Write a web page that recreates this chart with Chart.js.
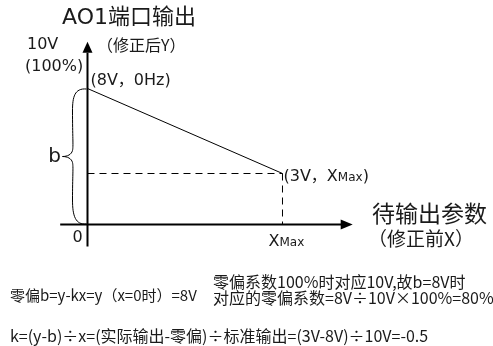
<!DOCTYPE html>
<html>
<head>
<meta charset="utf-8">
<title>AO1 output</title>
<script src="https://cdn.jsdelivr.net/npm/chart.js@4"></script>
<style>
  html, body { margin: 0; padding: 0; background: #fff; }
  #chartAO1 { display: block; }
</style>
</head>
<body>
<canvas id="chartAO1" width="493" height="346"></canvas>
<script>
/******************************************************
 * AO1 output: zero offset / gain diagram
 ******************************************************/

// ===== DATA =====
const xKeys = [0, 10];            // 0Hz ... XMax (XMax drawn at 10)
const outputVolts = [8, 3];       // corrected output at each x
const fullScaleVolts = 10;        // 10V = 100%
const yTickLabels = ['10V', '(100%)'];
const xTickLabels = ['0', 'XMax'];
const pointLabels = ['(8V，0Hz)', '(3V，XMax)'];

const titleText = 'AO1端口输出';
const yAxisNote = '（修正后Y）';
const xAxisTitle = '待输出参数';
const xAxisNote = '（修正前X）';
const formulaLines = [
  '零偏b=y-kx=y（x=0时）=8V',
  '零偏系数100%时对应10V,故b=8V时',
  '对应的零偏系数=8V÷10V×100%=80%',
  'k=(y-b)÷x=(实际输出-零偏)÷标准输出=(3V-8V)÷10V=-0.5'
];

const LATIN = '"DejaVu Sans", "Noto Sans CJK SC", sans-serif';
const CJK = '"Noto Sans CJK SC", "DejaVu Sans", sans-serif';
const INK = '#1a1a1a';

// =====================================================

/* ------------------------------
   TEXT HELPER
--------------------------------*/
function putText(ctx, text, x, y, font, align) {
  ctx.font = font;
  ctx.textAlign = align || 'left';
  ctx.textBaseline = 'middle';
  ctx.fillStyle = INK;
  ctx.fillText(text, x, y);
}

// "XMax" with the smaller "Max"
function putXMax(ctx, x, y, size) {
  ctx.font = size + 'px ' + LATIN;
  ctx.textAlign = 'left';
  ctx.textBaseline = 'middle';
  ctx.fillStyle = INK;
  ctx.fillText('X', x, y);
  const w = ctx.measureText('X').width;
  ctx.font = Math.round(size * 0.78) + 'px ' + LATIN;
  ctx.fillText('Max', x + w, y + 1);
  return w + ctx.measureText('Max').width;
}

/* ------------------------------
   AXES, BRACE AND LABELS
--------------------------------*/
const diagramPlugin = {
  id: 'diagram',
  afterDatasetsDraw(chart) {
    const ctx = chart.ctx;
    const xs = chart.scales.x, ys = chart.scales.y;
    const px = v => xs.getPixelForValue(v);
    const py = v => ys.getPixelForValue(v);

    const x0 = px(0), y0 = py(0);
    ctx.save();

    // axes
    ctx.strokeStyle = '#000';
    ctx.fillStyle = '#000';
    ctx.lineWidth = 2;
    ctx.beginPath();
    ctx.moveTo(px(-1.4), y0);
    ctx.lineTo(px(13.1), y0);
    ctx.moveTo(x0, py(-1.3));
    ctx.lineTo(x0, py(10.1));
    ctx.stroke();

    // arrow heads
    const xt = px(13.6);
    ctx.beginPath();
    ctx.moveTo(xt, y0);
    ctx.lineTo(xt - 12, y0 - 5);
    ctx.lineTo(xt - 12, y0 + 5);
    ctx.closePath();
    ctx.fill();
    const yt = py(10.75);
    ctx.beginPath();
    ctx.moveTo(x0, yt);
    ctx.lineTo(x0 - 5, yt + 11);
    ctx.lineTo(x0 + 5, yt + 11);
    ctx.closePath();
    ctx.fill();

    // brace for b
    const top = py(outputVolts[0]) + 0.5, bot = y0 - 0.5;
    const mid = (top + bot) / 2;
    const sx = x0 - 15, tip = x0 - 25;
    ctx.lineWidth = 1;
    ctx.beginPath();
    ctx.moveTo(x0 - 1, top);
    ctx.bezierCurveTo(sx + 2, top - 1, sx, top + 8, sx, top + 22);
    ctx.bezierCurveTo(sx, mid - 20, sx + 1, mid - 10, sx, mid - 6);
    ctx.bezierCurveTo(sx - 1, mid - 2, sx - 5, mid, tip, mid);
    ctx.bezierCurveTo(sx - 5, mid, sx - 1, mid + 2, sx, mid + 6);
    ctx.bezierCurveTo(sx + 1, mid + 10, sx, mid + 20, sx, bot - 24);
    ctx.bezierCurveTo(sx, bot - 8, sx + 3, bot + 1, x0 - 1, bot);
    ctx.stroke();
    putText(ctx, 'b', tip - 8, mid, '20px ' + LATIN, 'center');

    // y ticks
    const yTop = py(fullScaleVolts);
    putText(ctx, yTickLabels[0], 27, yTop - 10, '16px ' + LATIN);
    putText(ctx, yTickLabels[1], 25, yTop + 12, '16px ' + LATIN);
    putText(ctx, yAxisNote, 97, yTop - 10, '16px ' + CJK);

    // title
    putText(ctx, titleText, 62, 18, '22px ' + LATIN);

    // x ticks
    putText(ctx, xTickLabels[0], x0 - 10, y0 + 13, '16px ' + LATIN, 'center');
    putXMax(ctx, px(xKeys[1]) - 14, y0 + 17, 16);

    // point labels
    putText(ctx, pointLabels[0], x0 + 3, py(outputVolts[0]) - 8, '16px ' + LATIN);
    const lx = px(xKeys[1]) + 1, ly = py(outputVolts[1]) + 3;
    putText(ctx, '(3V，', lx, ly, '16px ' + LATIN);
    ctx.font = '16px ' + LATIN;
    let w = ctx.measureText('(3V，').width;
    w += putXMax(ctx, lx + w, ly, 16);
    putText(ctx, ')', lx + w, ly, '16px ' + LATIN);

    // x axis title
    putText(ctx, xAxisTitle, 372, 213, '23px ' + CJK);
    putText(ctx, xAxisNote, 368, 239, '19px ' + CJK);

    // formulas
    putText(ctx, formulaLines[0], 10, 295, '15px ' + CJK);
    putText(ctx, formulaLines[1], 213, 282, '16px ' + CJK);
    putText(ctx, formulaLines[2], 213, 298, '16px ' + CJK);
    putText(ctx, formulaLines[3], 10, 336, '16px ' + CJK);

    ctx.restore();
  }
};

/* ------------------------------
   CHART
--------------------------------*/
const ctx = document.getElementById('chartAO1').getContext('2d');

new Chart(ctx, {
  type: 'scatter',
  data: {
    datasets: [
      {
        label: 'AO1',
        data: xKeys.map((x, i) => ({ x, y: outputVolts[i] })),
        showLine: true,
        borderColor: '#000',
        borderWidth: 1,
        pointRadius: 0
      },
      {
        label: 'guide-h',
        data: [{ x: xKeys[0], y: outputVolts[1] }, { x: xKeys[1], y: outputVolts[1] }],
        showLine: true,
        borderColor: '#000',
        borderWidth: 1,
        borderDash: [7, 5],
        pointRadius: 0
      },
      {
        label: 'guide-v',
        data: [{ x: xKeys[1], y: outputVolts[1] }, { x: xKeys[1], y: 0 }],
        showLine: true,
        borderColor: '#000',
        borderWidth: 1,
        borderDash: [7, 5],
        pointRadius: 0
      }
    ]
  },
  options: {
    responsive: false,
    animation: false,
    layout: { padding: 0 },
    plugins: { legend: { display: false }, tooltip: { enabled: false } },
    scales: {
      x: { type: 'linear', display: false, min: -4.487, max: 20.795 },
      y: { type: 'linear', display: false, min: -7.147, max: 13.206 }
    }
  },
  plugins: [diagramPlugin]
});
</script>
</body>
</html>
